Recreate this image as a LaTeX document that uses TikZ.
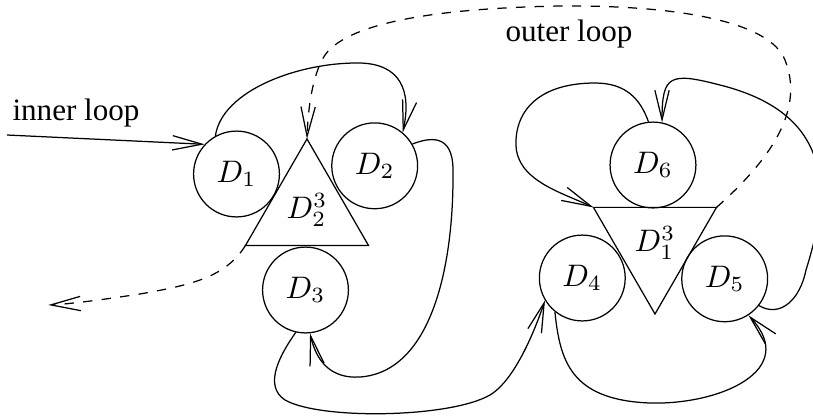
\documentclass[tikz,border=0pt]{standalone}
\usepackage{fontspec}
\setmainfont{Liberation Serif}
\usetikzlibrary{arrows.meta,shapes.geometric}

\begin{document}
\begin{tikzpicture}[x=0.3215pt,y=-0.3215pt,
        >={Straight Barb[length=9.5pt,width=4.6pt]},
        disc/.style={circle,draw,minimum size=27.6pt,inner sep=0pt},
        tri/.style={regular polygon,regular polygon sides=3,draw,minimum size=45.7pt,inner sep=0pt,outer sep=0pt},
        outerline/.style={->,dashed}]
            \useasboundingbox (0,0) rectangle (813,418);

            % Bloque izquierdo
            \node[tri] (t2) at (307,210) {$D^3_2$};
            \node[disc] (d1) at (236.5,174) {$D_1$};
            \node[disc] (d2) at (374.7,165.8) {$D_2$};
            \node[disc] (d3) at (305.5,290) {$D_3$};

            % Bloque derecho
            \node[tri,shape border rotate=180] (t1) at (655,242.9) {$D^3_1$};
            \node[disc] (d4) at (582.3,278) {$D_4$};
            \node[disc] (d5) at (724.7,278.8) {$D_5$};
            \node[disc] (d6) at (653,165) {$D_6$};

            \coordinate (in) at (7,135);
            \coordinate (out) at (48.3,305);
            \node[anchor=base] (innerlabel) at (76,120) {inner loop};
            \node[anchor=base] (outerlabel) at (569,41) {outer loop};

            % Lazo interior
            \draw[->] (in) -- (d1.137);
            \draw[->] (d1.119) .. controls (222,90) and (300,62) .. (360,63)
                .. controls (400,64) and (412,90) .. (d2.50);
            \draw[->] (d2.30) .. controls (428,138) and (453,132) .. (453,170)
                .. controls (454,270) and (430,372) .. (360,377)
                .. controls (330,379) and (316,360) .. (d3.-84);
            \draw[->] (d3.-103) .. controls (282,352) and (262,385) .. (285,400)
                .. controls (320,420) and (450,418) .. (490,395)
                .. controls (515,380) and (535,330) .. (d4.-149);
            \draw[->] (d4.-129) .. controls (560,360) and (570,400) .. (650,403)
                .. controls (720,405) and (800,370) .. (d5.-57);
            \draw[->] (d5.-38) .. controls (780,318) and (800,300) .. (806,270)
                .. controls (828,200) and (840,115) .. (720,85)
                .. controls (670,72) and (662,75) .. (d6.78);
            \draw[->] (d6.96) .. controls (640,98) and (625,83) .. (595,83)
                .. controls (540,83) and (515,110) .. (516,145)
                .. controls (517,180) and (560,192) .. (t1.corner 3);

            % Lazo exterior
            \draw[outerline] (t1.corner 2) .. controls (770,160) and (805,110) .. (785,60)
                .. controls (770,22) and (680,5) .. (560,6)
                .. controls (450,8) and (350,20) .. (325,55)
                .. controls (312,75) and (308,110) .. (t2.corner 1);
            \draw[outerline] (t2.corner 2) .. controls (225,278) and (190,285) .. (140,294)
                .. controls (100,300) and (70,304) .. (out);
\end{tikzpicture}
\end{document}
